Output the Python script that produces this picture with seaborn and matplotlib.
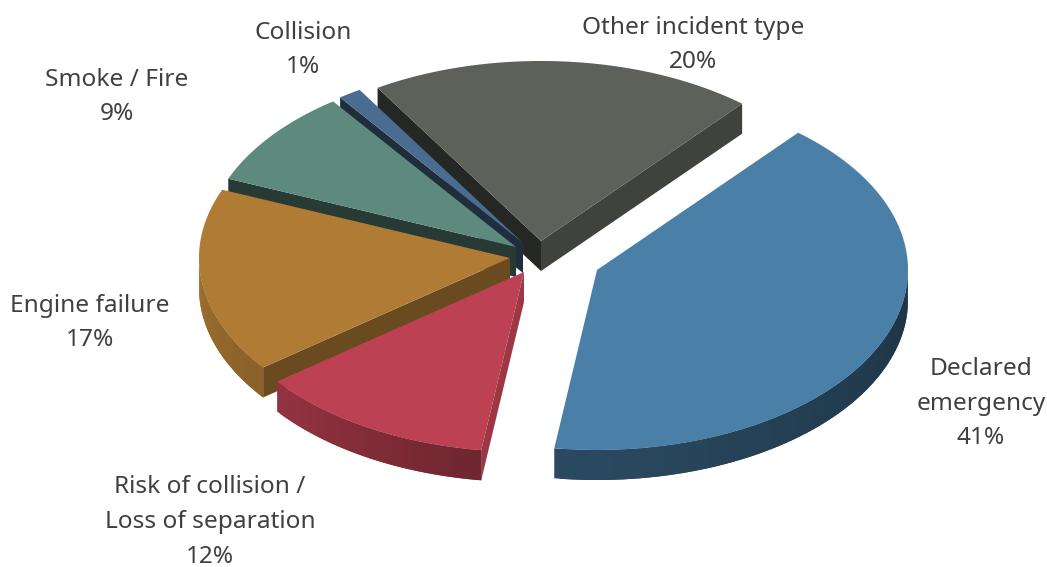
import numpy as np
import pandas as pd
import seaborn as sns
import matplotlib
matplotlib.use("Agg")
import matplotlib.pyplot as plt

# Chart data

categories = ["Declared\nemergency", "Risk of collision /\nLoss of separation", "Engine failure",
              "Smoke / Fire", "Collision", "Other incident type"]
shares = [41.0, 12.4, 16.6, 8.8, 1.2, 20.0]

# Slice styling

top_colors = ["#4A80A8", "#BC4152", "#B07B34", "#5D8A7C", "#4A6C90", "#5D6159"]
tips_px = [(597, 270), (524, 272), (510, 258), (516, 247), (523, 243), (541, 241)]
label_px = [(981, 403.5), (210, 522), (90, 323), (117, 97), (303, 50), (693, 45)]
radial_shade = [0.45, 0.84, 0.60, 0.42, 0.42, 0.40]
end_shade = [0.45, 0.8, 0.6, 0.4, 0.4, 0.68]

start_angle = 49.7
rx, ry, depth = 311, 180, 30

sns.set_theme(style="white")
plt.rcParams["font.family"] = ["Noto Sans", "DejaVu Sans"]
palette = sns.color_palette(top_colors)

df = pd.DataFrame({"category": categories, "share": shares})
df["sweep"] = df["share"] / df["share"].sum() * 360
df["t_start"] = start_angle - df["sweep"].cumsum().shift(fill_value=0)
df["t_end"] = df["t_start"] - df["sweep"]


def rim(cx, cy, t):
    t = np.radians(t)
    return cx + rx * np.cos(t), cy - ry * np.sin(t)


def shade(color, f):
    return tuple(np.array(color) * f)


def side_factor(t):
    # front wall gets darker going left to right
    return np.interp(t, [-180, -141, -98, 0], [0.9, 0.78, 0.58, 0.40])


def radial_wall(ax, cx, cy, t, color):
    x, y = rim(cx, cy, t)
    ax.fill([cx, x, x, cx], [cy, y, y + depth, cy + depth], color=color, lw=0)


fig, ax = plt.subplots(figsize=(10.47, 5.67), dpi=100)
fig.subplots_adjust(0, 0, 1, 1)
ax.set_xlim(0, 1047)
ax.set_ylim(567, 0)
ax.axis("off")

# Back slices first so the front ones cover them

for i in sorted(range(len(df)), key=lambda k: tips_px[k][1]):
    row = df.iloc[i]
    cx, cy = tips_px[i]
    color = palette[i]
    t_start, t_end = row["t_start"], row["t_end"]

    if np.cos(np.radians(t_start)) < 0:
        radial_wall(ax, cx, cy, t_start, shade(color, radial_shade[i]))
    if np.cos(np.radians(t_end)) > 0:
        radial_wall(ax, cx, cy, t_end, shade(color, end_shade[i]))

    # Outer wall, only the part facing the viewer. Each strip runs on under
    # the next one so no seams show

    low, high = max(t_end, -180), min(t_start, 0)
    if high > low:
        steps = np.linspace(low, high, int(high - low) + 2)
        for k in range(len(steps) - 1):
            arc = np.linspace(steps[k], steps[min(k + 2, len(steps) - 1)], 5)
            xs, ys = rim(cx, cy, arc)
            ax.fill(np.r_[xs, xs[::-1]], np.r_[ys, ys[::-1] + depth],
                    color=shade(color, side_factor(steps[k])), lw=0)

    # Top face

    arc = np.linspace(t_start, t_end, 120)
    xs, ys = rim(cx, cy, arc)
    ax.fill(np.r_[cx, xs], np.r_[cy, ys], color=color, lw=0)

for (x, y), cat, val in zip(label_px, categories, shares):
    ax.text(x, y, f"{cat}\n{val:.0f}%", ha="center", va="center", fontsize=17.6,
            color="#404040", linespacing=1.6)

plt.savefig("out.png", dpi=100)
